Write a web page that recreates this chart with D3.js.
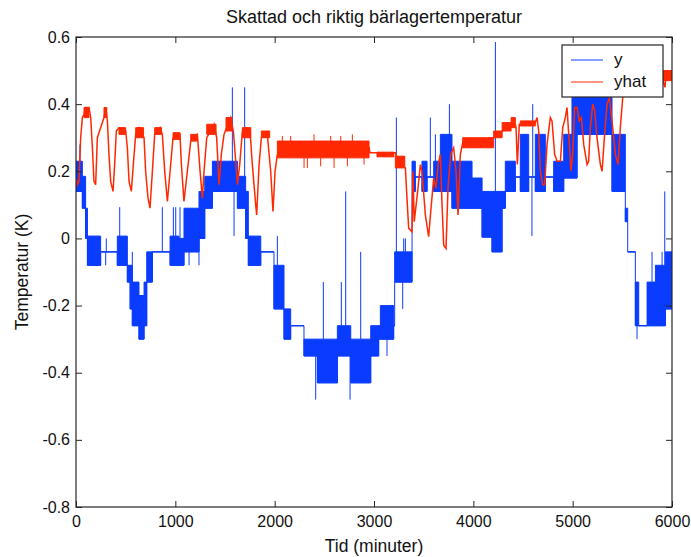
<!DOCTYPE html>
<html><head><meta charset="utf-8">
<script src="https://cdn.jsdelivr.net/npm/d3@7"></script>
<style>body{margin:0;background:#fff}text{font-family:"Liberation Sans",Arial,sans-serif}</style>
</head><body><svg id="c" width="691" height="557"></svg>
<script>
const chartTitle = "Skattad och riktig bärlagertemperatur";
const xLabel = "Tid (minuter)";
const yLabel = "Temperatur (K)";
const xTicks = [0,1000,2000,3000,4000,5000,6000];
const yTicks = [-0.8,-0.6,-0.4,-0.2,0,0.2,0.4,0.6];
const seriesNames = ["y","yhat"];

// measured y: runs (start time, low, high) — low==high means flat
const yRunT  = [0,64,97,115,248,416,517,545,567,634,685,712,769,947,1037,1087,1238,1296,1373,1625,1708,1735,1860,1993,2094,2161,2295,2430,2631,2766,2967,3047,3064,3198,3208,3383,3416,3483,3534,3601,3668,3785,3987,4088,4188,4289,4322,4423,4473,4557,4624,4725,4809,4910,4993,5044,5396,5530,5554,5631,5665,5749,5833,5933];
const yRunLo = [0.14,0.09,0.0,-0.08,-0.04,-0.08,-0.13,-0.21,-0.26,-0.30,-0.26,-0.13,-0.04,-0.08,-0.08,-0.04,0.0,0.09,0.14,0.09,0.0,-0.08,-0.04,-0.21,-0.30,-0.26,-0.35,-0.43,-0.35,-0.43,-0.35,-0.30,-0.30,-0.26,-0.13,0.14,0.183,0.14,0.183,0.14,0.14,0.09,0.09,0.004,-0.04,0.09,0.14,0.183,0.14,0.183,0.14,0.183,0.14,0.18,0.18,0.31,0.14,0.05,-0.04,-0.26,-0.26,-0.26,-0.26,-0.21];
const yRunHi = [0.23,0.185,0.09,0.007,-0.04,0.007,-0.08,-0.08,-0.13,-0.17,-0.13,-0.04,-0.04,0.007,0.0,0.09,0.14,0.185,0.23,0.185,0.14,0.007,-0.04,-0.08,-0.21,-0.26,-0.30,-0.30,-0.26,-0.30,-0.26,-0.26,-0.20,-0.26,-0.04,0.23,0.183,0.23,0.183,0.23,0.31,0.23,0.18,0.14,0.14,0.14,0.23,0.183,0.31,0.183,0.31,0.183,0.23,0.31,0.42,0.42,0.31,0.09,-0.04,-0.13,-0.26,-0.13,-0.08,-0.04];
// single-sample spikes of y
const ySpikeT = [40,299,305,440,567,869,980,1004,1047,1138,1238,1574,1591,1698,2027,2413,2490,2671,2715,2759,2866,3030,3131,3225,3289,3299,3316,3567,3618,3759,4222,4590,4598,5648,5799,5900,5927];
const ySpikeV = [0.28,-0.08,0.0,0.093,-0.04,0.093,0.093,0.093,0.093,-0.08,-0.08,0.45,0.007,0.45,0.007,-0.48,-0.13,-0.13,0.14,-0.48,-0.04,-0.35,-0.35,0.36,-0.21,0.0,0.0,0.36,0.31,0.40,0.585,0.007,0.40,-0.30,-0.04,-0.04,0.14];

// estimated yhat
const yhatT = [0,15,30,47,64,81,97,131,148,165,181,198,215,248,282,299,316,332,349,373,389,406,433,500,517,534,557,577,601,634,685,701,725,745,769,792,846,869,893,920,947,977,1047,1061,1087,1121,1155,1222,1249,1272,1289,1316,1356,1390,1416,1440,1463,1490,1530,1557,1584,1608,1625,1648,1675,1708,1752,1775,1809,1819,1843,1866,1926,1960,1983,2004,2027,2100,2950,2960,3215,3248,3316,3332,3349,3383,3392,3405,3443,3467,3483,3517,3550,3577,3601,3624,3645,3668,3685,3702,3725,3745,3772,3802,3826,3846,3869,3893,4205,4290,4380,4423,4430,4443,4463,4624,4641,4658,4675,4698,4718,4742,4775,4792,4819,4843,4876,4900,4926,4943,4967,4983,5000,5020,5044,5067,5088,5111,5145,5161,5178,5202,5222,5245,5279,5296,5319,5346,5370,5396,5430,5457,5480,5504,5524,5547,5900,5930,5940,6000];
const yhatV = [0.18,0.16,0.17,0.30,0.36,0.37,0.39,0.39,0.36,0.27,0.17,0.16,0.30,0.33,0.36,0.39,0.35,0.25,0.17,0.14,0.22,0.32,0.33,0.32,0.27,0.17,0.14,0.22,0.31,0.33,0.30,0.20,0.12,0.09,0.20,0.31,0.33,0.31,0.20,0.11,0.20,0.30,0.31,0.22,0.11,0.20,0.29,0.31,0.20,0.12,0.20,0.30,0.32,0.34,0.30,0.16,0.25,0.31,0.34,0.36,0.32,0.23,0.16,0.22,0.32,0.33,0.32,0.22,0.10,0.07,0.22,0.30,0.31,0.20,0.08,0.20,0.25,0.27,0.27,0.255,0.255,0.22,0.21,0.12,0.03,0.02,0.20,0.05,0.15,0.22,0.20,0.07,0.005,0.10,0.18,0.15,0.22,0.25,0.10,-0.02,-0.03,0.15,0.25,0.27,0.20,0.07,0.25,0.285,0.30,0.32,0.34,0.34,0.33,0.22,0.34,0.345,0.36,0.32,0.20,0.16,0.16,0.28,0.36,0.35,0.25,0.23,0.23,0.33,0.36,0.39,0.28,0.20,0.25,0.39,0.39,0.35,0.36,0.28,0.22,0.23,0.33,0.40,0.38,0.30,0.22,0.20,0.30,0.40,0.42,0.35,0.25,0.22,0.33,0.42,0.44,0.47,0.48,0.45,0.49,0.48];
// noisy stretches of yhat (start, end, low, high)
const yhatBandT0 = [81,282,433,601,792,977,1155,1316,1510,1675,1866,2027,3030,3215,3893,4205,4290,4380,4473,5906];
const yhatBandT1 = [131,310,500,680,860,1047,1222,1410,1570,1760,1950,2950,3200,3310,4205,4290,4380,4423,4624,6000];
const yhatBandLo = [0.36,0.36,0.31,0.30,0.31,0.295,0.29,0.31,0.32,0.30,0.30,0.24,0.243,0.21,0.27,0.30,0.32,0.33,0.335,0.47];
const yhatBandHi = [0.39,0.39,0.33,0.33,0.33,0.315,0.31,0.34,0.36,0.33,0.32,0.29,0.257,0.245,0.30,0.32,0.345,0.36,0.35,0.50];
// single-sample spikes of yhat
const yhatSpikeT = [2077,2161,2296,2329,2396,2463,2564,2598,2665,2732,2782,2900];
const yhatSpikeV = [0.305,0.305,0.21,0.21,0.31,0.215,0.305,0.21,0.305,0.215,0.31,0.22];

const colors = ["#0a3cff","#ff2800"];
const W = 691, H = 557;
const m = {left:76, top:37, right:19, bottom:50};
const iw = W - m.left - m.right, ih = H - m.top - m.bottom;

const svg = d3.select("#c");
const x = d3.scaleLinear().domain([0,6000]).range([0, iw]);
const y = d3.scaleLinear().domain([-0.8,0.6]).range([ih, 0]);

svg.append("defs").append("clipPath").attr("id","clip")
  .append("rect").attr("width", iw).attr("height", ih);

const g = svg.append("g").attr("transform",`translate(${m.left},${m.top})`);
const plot = g.append("g").attr("clip-path","url(#clip)");

const area = d3.area().x(d=>x(d.t)).y0(d=>y(d.lo)).y1(d=>y(d.hi));
function drawBands(parent, bands, color){
  parent.append("g").selectAll("path").data(bands).join("path")
    .attr("d", r => area([{t:r.t0,lo:r.lo,hi:r.hi},{t:r.t1,lo:r.lo,hi:r.hi}]))
    .attr("fill", color).attr("stroke", color).attr("stroke-width",1);
}
function drawSpikes(parent, pts, baseOf, color){
  parent.append("g").selectAll("line").data(pts).join("line")
    .attr("x1", d=>x(d.t)).attr("x2", d=>x(d.t))
    .attr("y1", d=>y(baseOf(d))).attr("y2", d=>y(d.v))
    .attr("stroke", color).attr("stroke-width",1);
}

// ---- y series
const runs = yRunT.map((t,i)=>({t0:t, t1: i<yRunT.length-1 ? yRunT[i+1] : 6000, lo:yRunLo[i], hi:yRunHi[i]}));
drawBands(plot, runs, colors[0]);
const stepPts = runs.map(r=>[r.t0, r.lo]).concat([[6000, runs[runs.length-1].lo]]);
plot.append("path")
  .attr("d", d3.line().x(d=>x(d[0])).y(d=>y(d[1])).curve(d3.curveStepAfter)(stepPts))
  .attr("fill","none").attr("stroke",colors[0]).attr("stroke-width",1);
const runAt = t => runs.find(r => t>=r.t0 && t<r.t1) || runs[runs.length-1];
drawSpikes(plot, ySpikeT.map((t,i)=>({t, v:ySpikeV[i]})),
  d => { const r = runAt(d.t); return d.v > r.hi ? r.hi : r.lo; }, colors[0]);

// ---- yhat series
const bands = yhatBandT0.map((t,i)=>({t0:t, t1:yhatBandT1[i], lo:yhatBandLo[i], hi:yhatBandHi[i]}));
drawBands(plot, bands, colors[1]);
plot.append("path")
  .attr("d", d3.line().x((d,i)=>x(yhatT[i])).y(d=>y(d))(yhatV))
  .attr("fill","none").attr("stroke",colors[1]).attr("stroke-width",1.5);
const bandAt = t => bands.find(b => t>=b.t0 && t<b.t1);
drawSpikes(plot, yhatSpikeT.map((t,i)=>({t, v:yhatSpikeV[i]})),
  d => { const b = bandAt(d.t); return d.v > b.hi ? b.hi : b.lo; }, colors[1]);

// ---- axes
const axisColor = "#262626";
const fmt = d => String(d);
function styleAxis(sel){
  sel.select(".domain").remove();
  sel.selectAll("line").attr("stroke", axisColor);
  sel.selectAll("text").attr("fill","#111").style("font-size","16px");
}
g.append("g").attr("transform",`translate(0,${ih})`)
  .call(d3.axisBottom(x).tickValues(xTicks).tickFormat(fmt).tickSizeInner(-6).tickSizeOuter(0).tickPadding(9))
  .call(styleAxis);
g.append("g")
  .call(d3.axisTop(x).tickValues(xTicks).tickFormat("").tickSizeInner(-6).tickSizeOuter(0))
  .call(styleAxis);
g.append("g")
  .call(d3.axisLeft(y).tickValues(yTicks).tickFormat(fmt).tickSizeInner(-6).tickSizeOuter(0).tickPadding(6))
  .call(styleAxis);
g.append("g").attr("transform",`translate(${iw},0)`)
  .call(d3.axisRight(y).tickValues(yTicks).tickFormat("").tickSizeInner(-6).tickSizeOuter(0))
  .call(styleAxis);
g.append("rect").attr("width",iw).attr("height",ih).attr("fill","none")
  .attr("stroke",axisColor).attr("stroke-width",1.2);

// ---- labels
svg.append("text").attr("x", m.left+iw/2).attr("y", 23).attr("text-anchor","middle")
  .style("font-size","18px").attr("fill","#111").text(chartTitle);
svg.append("text").attr("x", m.left+iw/2).attr("y", 552).attr("text-anchor","middle")
  .style("font-size","17.5px").attr("fill","#111").text(xLabel);
svg.append("text").attr("transform",`translate(28,${m.top+ih/2}) rotate(-90)`).attr("text-anchor","middle")
  .style("font-size","17.5px").attr("fill","#111").text(yLabel);

// ---- legend
const lg = svg.append("g").attr("transform","translate(562,45)");
lg.append("rect").attr("width",101).attr("height",52).attr("fill","#fff").attr("stroke",axisColor).attr("stroke-width",1.2);
seriesNames.forEach((nm,i)=>{
  lg.append("line").attr("x1",9).attr("x2",41).attr("y1",15+22*i).attr("y2",15+22*i)
    .attr("stroke",colors[i]).attr("stroke-width",1);
  lg.append("text").attr("x",52).attr("y",20+22*i).style("font-size","17px").attr("fill","#111").text(nm);
});
</script></body></html>
